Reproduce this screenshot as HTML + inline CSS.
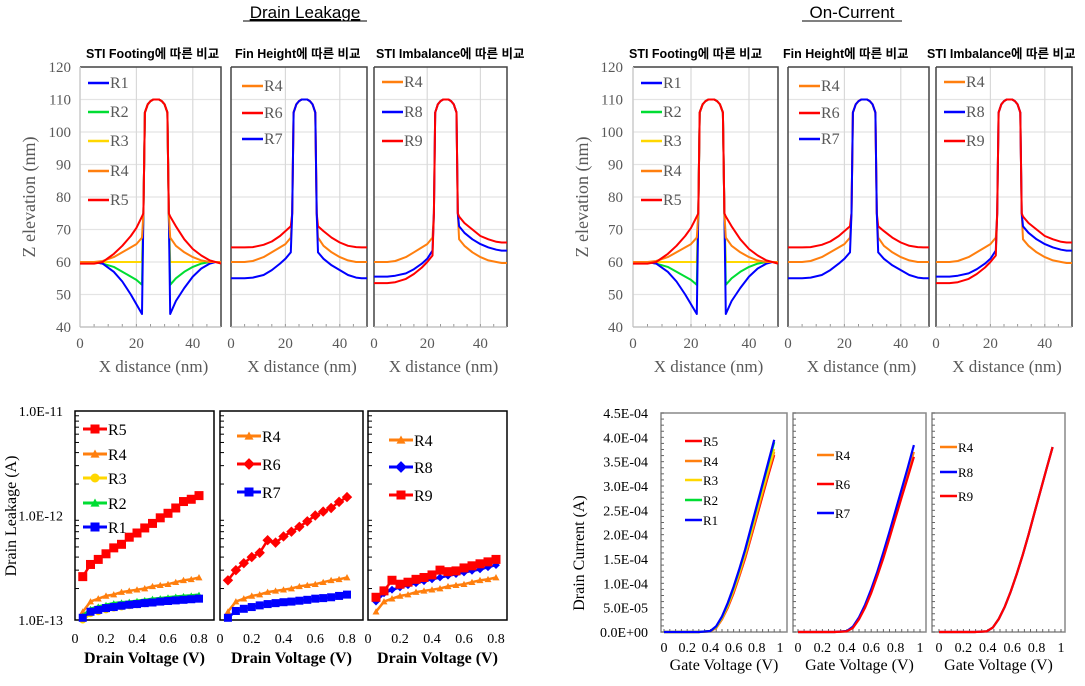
<!DOCTYPE html>
<html><head><meta charset="utf-8"><style>
body{margin:0;background:#fff;width:1085px;height:686px;overflow:hidden}
svg{display:block;font-family:"Liberation Serif","Noto Serif CJK SC",serif}
.kt{font-family:"Liberation Sans","Noto Sans CJK KR",sans-serif;font-weight:bold;font-size:12.5px}
</style></head><body>
<svg id="fig" width="1085" height="686" viewBox="0 0 1085 686">
<text x="305" y="18" text-anchor="middle" font-family="Liberation Sans, sans-serif" font-size="17" text-decoration="underline">Drain Leakage</text>
<line x1="243" y1="21" x2="367" y2="21" stroke="#000" stroke-width="1"/>
<text x="852" y="18" text-anchor="middle" font-family="Liberation Sans, sans-serif" font-size="17">On-Current</text>
<line x1="802" y1="21" x2="902" y2="21" stroke="#000" stroke-width="1"/>
</svg>
<script>
// ---------- data ----------
const topXL=[0,5,8,12,15,18,20,22];
const topXR=[32,34,37,40,43,46,48,50];
const finX=[22.5,23,24,25,26,27,28,29,30,31,31.5];
const finZ=[75,106,108.5,109.5,110,110,110,109.5,108.5,106,75];
const zR1L=[60,60,59.5,57,54,50,47,44], zR1R=[44,48,52,55.5,58,59.5,60,60];
const zR2L=[60,60,59.5,58.5,57,55.5,54.5,53], zR2R=[53,55,57,58.5,59.5,60,60,60];
const zR3L=[60,60,60,60,60,60,60,60], zR3R=[60,60,60,60,60,60,60,60];
const zR4L=[60,60,60.3,61.5,63,64.5,65.5,67.5], zR4R=[67.5,65,63,61.5,60.5,60,60,60];
const zR5L=[59.5,59.5,60,62.5,65,68,70.5,74], zR5R=[74,71,67,64,62,60.5,60,59.5];
const zR6L=[64.5,64.5,64.6,65.3,66.3,68,69.5,71], zR6R=[71,69.5,67.5,66,65,64.6,64.5,64.5];
const zR7L=[55,55,55.2,56,57.5,59.5,61,63], zR7R=[63,61,59,57.5,56,55.2,55,55];
const zR8L=[55.5,55.5,55.8,56.5,57.8,59.5,61,63.5], zR8R=[71,69,67,65.5,64.5,63.8,63.5,63.5];
const zR9L=[53.5,53.5,53.8,54.8,56.3,58.3,60,62], zR9R=[74,72,70,68,67,66.2,66,66];
const zR4bR=[67,65,63,61.5,60.5,60,59.7,59.7];
const yTicksTop=[40,50,60,70,80,90,100,110,120];
const xTicksTop=[0,20,40];

const vd=[0.05,0.1,0.15,0.2,0.25,0.3,0.35,0.4,0.45,0.5,0.55,0.6,0.65,0.7,0.75,0.8];
const lkR5=[2.6,3.4,3.8,4.3,4.9,5.3,6.2,6.8,7.6,8.4,9.5,10.5,11.8,13.6,14.3,15.5];
const lkR4=[1.2,1.5,1.6,1.7,1.75,1.85,1.9,1.95,2.0,2.1,2.15,2.2,2.3,2.4,2.45,2.55];
const lkR3=[1.0,1.15,1.2,1.25,1.3,1.33,1.37,1.4,1.43,1.46,1.5,1.52,1.55,1.58,1.6,1.62];
const lkR2=[1.1,1.28,1.35,1.4,1.45,1.48,1.5,1.53,1.56,1.6,1.62,1.65,1.68,1.7,1.72,1.75];
const lkR1=[1.05,1.2,1.25,1.3,1.33,1.37,1.4,1.42,1.45,1.47,1.5,1.52,1.54,1.56,1.58,1.6];
const lkR6=[2.4,3.0,3.5,4.0,4.4,5.8,5.5,6.3,7.0,7.8,8.8,10.0,10.9,11.8,13.5,15.0];
const lkR7=[1.05,1.22,1.28,1.33,1.38,1.42,1.45,1.48,1.5,1.53,1.56,1.6,1.62,1.65,1.7,1.75];
const lkR8=[1.5,1.8,1.95,2.05,2.15,2.25,2.35,2.45,2.55,2.65,2.75,2.85,2.95,3.05,3.2,3.35];
const lkR9=[1.65,1.9,2.4,2.2,2.3,2.45,2.55,2.7,3.0,2.9,2.95,3.15,3.3,3.45,3.6,3.8];
const lkTicks=["1.0E-13","1.0E-12","1.0E-11"];
const vdTicks=[0,0.2,0.4,0.6,0.8];

const vg=[0,0.1,0.2,0.3,0.4,0.45,0.5,0.55,0.6,0.65,0.7,0.75,0.8,0.85,0.9,0.95];
const idR1=[0,0,0,0,0.2,1.2,3.2,6,9.3,13,17,21.5,26,30.5,35,39.5];
const idR2=[0,0,0,0,0.2,1.1,3.1,5.8,9.1,12.8,16.8,21.2,25.7,30.2,34.6,39];
const idR3=[0,0,0,0,0.2,1.0,2.9,5.5,8.7,12.3,16.2,20.5,24.9,29.3,33.5,37.6];
const idR4=[0,0,0,0,0.15,0.9,2.7,5.2,8.3,11.8,15.6,19.8,24.2,28.6,32.9,37];
const idR5=[0,0,0,0,0.15,0.85,2.6,5.0,8.0,11.5,15.2,19.4,23.7,28,32.3,36.4];
const idR6=[0,0,0,0,0.15,0.85,2.6,5.0,8.0,11.5,15.2,19.3,23.5,27.7,31.8,36];
const idR7=[0,0,0,0,0.2,1.1,3.0,5.6,8.8,12.4,16.4,20.6,25,29.4,33.8,38.4];
const idP3=[0,0,0,0,0.15,0.9,2.7,5.2,8.3,11.9,15.8,20.1,24.6,29.1,33.6,38];
const idTicks=["0.0E+00","5.0E-05","1.0E-04","1.5E-04","2.0E-04","2.5E-04","3.0E-04","3.5E-04","4.0E-04","4.5E-04"];
const vgTicks=[0,0.2,0.4,0.6,0.8,1];

const C={R1:"#0000ff",R2:"#00dd33",R3:"#ffd700",R4:"#ff7f0e",R5:"#ff0000",R6:"#ff0000",R7:"#0000ff",R8:"#0000ff",R9:"#ff0000"};
const NS="http://www.w3.org/2000/svg";
const svg=document.getElementById('fig');
function mk(tag,attrs,parent){const e=document.createElementNS(NS,tag);for(const k in attrs)e.setAttribute(k,attrs[k]);(parent||svg).appendChild(e);return e;}

// ---------- top profile panels ----------
function topPanel(px0,px1,border,leftGrey){
  const g=mk('g',{});
  
  
  const sx=x=>px0+(px1-px0)*x/50, sy=z=>327-(z-40)*260/80;
  yTicksTop.forEach(t=>{const l=mk('line',{x1:px0,x2:px1,y1:sy(t),y2:sy(t),stroke:'#e4e4e4','stroke-width':1.2},g);
    
    });
  xTicksTop.slice(1).forEach(t=>{const l=mk('line',{x1:sx(t),x2:sx(t),y1:67,y2:327,stroke:'#d9d9d9','stroke-width':1.2},g);
    
    });
  for(let t=0;t<=50;t+=5){const l=mk('line',{x1:sx(t),x2:sx(t),y1:324,y2:327,stroke:'#999'},g);
    
    }
  const r=mk('path',{d:`M${px0},67H${px1}V327`,fill:'none',stroke:'#444','stroke-width':1.5},g);
  
  
  const la=mk('line',{x1:px0,x2:px0,y1:67,y2:327,stroke:leftGrey?'#ccc':'#444','stroke-width':1.5},g);
  
  
  const ba=mk('line',{x1:px0,x2:px1,y1:327,y2:327,stroke:'#bbb','stroke-width':1.2},g);
  
  
  xTicksTop.forEach(t=>{const tx=mk('text',{x:sx(t),y:348,'text-anchor':'middle','font-size':15,fill:'#595959'},g);tx.textContent=t;
    
    });
  const xt=mk('text',{x:(px0+px1)/2+3,y:372,'text-anchor':'middle','font-size':17,fill:'#595959'},g);xt.textContent='X distance  (nm)';
  
  
  return {g,sx,sy};
}
function topSeries(P,name,L,R){
  const xs=topXL.concat(finX,topXR), zs=L.concat(finZ,R);
  const d=xs.map((x,i)=>(i?'L':'M')+P.sx(x).toFixed(1)+','+P.sy(zs[i]).toFixed(1)).join('');
  const p=mk('path',{d,fill:'none',stroke:C[name],'stroke-width':2,'stroke-linejoin':'round'},P.g);
  
  
}
function legendLine(g,x1,x2,y,name,col,fs,fill){
  const l=mk('line',{x1,x2,y1:y,y2:y,stroke:col,'stroke-width':2.5},g);
  
  
  const t=mk('text',{x:x2+1,y:y+5,'font-size':fs,fill:fill||'#595959'},g);t.textContent=name;
  
  
}
function yTickLabelsTop(x){yTicksTop.forEach(t=>{const tx=mk('text',{x,y:327-(t-40)*260/80+5,'text-anchor':'end','font-size':15,fill:'#595959'});tx.textContent=t;
  
  });}
function yTitle(x,y,txt,fs,fill,bold){const t=mk('text',{x,y,transform:`rotate(-90 ${x} ${y})`,'text-anchor':'middle','font-size':fs,fill,'font-weight':bold?'bold':'normal'});t.textContent=txt;
  
  }
function sub(x,txt){const t=mk('text',{x,y:58,'class':'kt'});t.textContent=txt;
  
  }

[[0,[80,221],[231,367],[374,507],71,35,[86,235,376]],[1,[633,778],[788,929],[936,1072],623,588,[629,783,927]]].forEach(([k,a,b,c,tlx,ytx,sx])=>{
  sub(sx[0],'STI Footing에 따른 비교');sub(sx[1],'Fin Height에 따른 비교');sub(sx[2],'STI Imbalance에 따른 비교');
  yTickLabelsTop(tlx);yTitle(ytx,197,'Z elevation  (nm)',18,'#595959');
  const P1=topPanel(a[0],a[1],true,true);
  topSeries(P1,'R3',zR3L,zR3R);topSeries(P1,'R2',zR2L,zR2R);topSeries(P1,'R1',zR1L,zR1R);topSeries(P1,'R4',zR4L,zR4R);topSeries(P1,'R5',zR5L,zR5R);
  ['R1','R2','R3','R4','R5'].forEach((n,i)=>legendLine(P1.g,a[0]+8,a[0]+29,[83,112,141,171,200][i],n,C[n],16));
  const P2=topPanel(b[0],b[1],true,false);
  topSeries(P2,'R4',zR4L,zR4R);topSeries(P2,'R6',zR6L,zR6R);topSeries(P2,'R7',zR7L,zR7R);
  ['R4','R6','R7'].forEach((n,i)=>legendLine(P2.g,b[0]+11,b[0]+32,[86,113,139][i],n,C[n],16));
  const P3=topPanel(c[0],c[1],true,false);
  topSeries(P3,'R4',zR4L,zR4bR);topSeries(P3,'R8',zR8L,zR8R);topSeries(P3,'R9',zR9L,zR9R);
  ['R4','R8','R9'].forEach((n,i)=>legendLine(P3.g,c[0]+8,c[0]+29,[82,112,141][i],n,C[n],16));
});

// ---------- bottom-left leakage ----------
function marker(g,type,x,y,col,s){
  let e;
  if(type==='sq')e=mk('rect',{x:x-s,y:y-s,width:2*s,height:2*s,fill:col},g);
  else if(type==='tri')e=mk('path',{d:`M${x},${y-s}L${x+s},${y+s*0.8}L${x-s},${y+s*0.8}Z`,fill:col},g);
  else if(type==='dia')e=mk('path',{d:`M${x},${y-s*1.3}L${x+s*1.3},${y}L${x},${y+s*1.3}L${x-s*1.3},${y}Z`,fill:col},g);
  else e=mk('circle',{cx:x,cy:y,r:s,fill:col},g);
  
  
}
function lkPanel(px0,px1,x0px,x08px){
  const g=mk('g',{});
  
  
  const sx=v=>x0px+(x08px-x0px)*v/0.8, sy=v=>620-(Math.log10(v)+13)*104.5;
  const r=mk('rect',{x:px0,y:411,width:px1-px0,height:209,fill:'none',stroke:'#000','stroke-width':1.5},g);
  
  
  for(let d=0;d<2;d++)for(let m=2;m<=9;m++){const y=620-(d+Math.log10(m))*104.5;const l=mk('line',{x1:px0,x2:px0+4,y1:y,y2:y,stroke:'#000'},g);
    
    }
  vdTicks.forEach(t=>{const tx=mk('text',{x:sx(t),y:643,'text-anchor':'middle','font-size':14},g);tx.textContent=t;
    
    });
  const xt=mk('text',{x:(px0+px1)/2,y:663,'text-anchor':'middle','font-size':16,'font-weight':'bold'},g);xt.textContent='Drain Voltage  (V)';
  
  
  return {g,sx,sy};
}
function lkSeries(P,name,vals,type,s,lw){
  const col=C[name];
  const d=vd.map((v,i)=>(i?'L':'M')+P.sx(v).toFixed(1)+','+P.sy(vals[i]*1e-13).toFixed(1)).join('');
  const p=mk('path',{d,fill:'none',stroke:col,'stroke-width':lw||2.5},P.g);
  
  
  vd.forEach((v,i)=>marker(P.g,type,P.sx(v),P.sy(vals[i]*1e-13),col,s));
}
function lkLegend(g,x,y,name,type){
  const l=mk('line',{x1:x,x2:x+24,y1:y,y2:y,stroke:C[name],'stroke-width':3},g);
  
  
  marker(g,type,x+12,y,C[name],4.5);
  const t=mk('text',{x:x+25,y:y+6,'font-size':16},g);t.textContent=name;
  
  
}
lkTicks.forEach((t,i)=>{const tx=mk('text',{x:63,y:620-i*104.5+5,'text-anchor':'end','font-size':14});tx.textContent=t;
  
  });
yTitle(16,516,'Drain Leakage  (A)',16,'#000',false);
const L1=lkPanel(75,214,75,199);
lkSeries(L1,'R4',lkR4,'tri',3.5);lkSeries(L1,'R3',lkR3,'circ',3.5);lkSeries(L1,'R2',lkR2,'tri',3);lkSeries(L1,'R1',lkR1,'sq',4);lkSeries(L1,'R5',lkR5,'sq',4.5);
[['R5','sq'],['R4','tri'],['R3','circ'],['R2','tri'],['R1','sq']].forEach(([n,t],i)=>lkLegend(L1.g,83,[429,454,478,503,527][i],n,t));
const L2=lkPanel(220,363,220,347);
lkSeries(L2,'R4',lkR4,'tri',3.5);lkSeries(L2,'R7',lkR7,'sq',4);lkSeries(L2,'R6',lkR6,'dia',4);
[['R4','tri'],['R6','dia'],['R7','sq']].forEach(([n,t],i)=>lkLegend(L2.g,237,[436,464,492][i],n,t));
const L3=lkPanel(368,507,368,496);
lkSeries(L3,'R4',lkR4,'tri',3.5);lkSeries(L3,'R8',lkR8,'dia',3);lkSeries(L3,'R9',lkR9,'sq',4.5);
[['R4','tri'],['R8','dia'],['R9','sq']].forEach(([n,t],i)=>lkLegend(L3.g,389,[440,467,495][i],n,t));

// ---------- bottom-right on-current ----------
function idPanel(px0,px1,x0px,x1px){
  const g=mk('g',{});
  
  
  const sx=v=>x0px+(x1px-x0px)*v, sy=v=>632-v*219/45;
  const r=mk('rect',{x:px0,y:413,width:px1-px0,height:219,fill:'none',stroke:'#888','stroke-width':1.5},g);
  
  
  for(let i=0;i<=45;i+=1.25){const l=mk('line',{x1:px0,x2:px0+3,y1:sy(i),y2:sy(i),stroke:'#666'},g);
    
    }
  for(let v=0;v<=1.001;v+=0.05){const l=mk('line',{x1:sx(v),x2:sx(v),y1:629,y2:632,stroke:'#666'},g);
    
    }
  vgTicks.forEach(t=>{const tx=mk('text',{x:sx(t),y:652,'text-anchor':'middle','font-size':14},g);tx.textContent=t;
    
    });
  const xt=mk('text',{x:(px0+px1)/2,y:670,'text-anchor':'middle','font-size':16},g);xt.textContent='Gate Voltage (V)';
  
  
  return {g,sx,sy};
}
function idSeries(P,name,vals,xs){
  const d=(xs||vg).map((v,i)=>(i?'L':'M')+P.sx(v).toFixed(1)+','+P.sy(vals[i]).toFixed(1)).join('');
  const p=mk('path',{d,fill:'none',stroke:C[name],'stroke-width':2.2},P.g);
  
  
}
idTicks.forEach((t,i)=>{const tx=mk('text',{x:648,y:632-i*219/9+5,'text-anchor':'end','font-size':14});tx.textContent=t;
  
  });
yTitle(584,553,'Drain Current (A)',16,'#000',false);
const vg3=vg.map(v=>v*0.98);
const I1=idPanel(661,787,664,780);
idSeries(I1,'R5',idR5);idSeries(I1,'R4',idR4);idSeries(I1,'R3',idR3);idSeries(I1,'R2',idR2);idSeries(I1,'R1',idR1);
['R5','R4','R3','R2','R1'].forEach((n,i)=>legendLine(I1.g,685,702,[441,461,480,500,520][i],n,C[n],13,'#000'));
const I2=idPanel(793,926,798,920);
idSeries(I2,'R4',idR4);idSeries(I2,'R7',idR7);idSeries(I2,'R6',idR6);
['R4','R6','R7'].forEach((n,i)=>legendLine(I2.g,817,834,[455,484,513][i],n,C[n],13,'#000'));
const I3=idPanel(932,1065,939,1061);
idSeries(I3,'R4',idP3,vg3);idSeries(I3,'R8',idP3,vg3);idSeries(I3,'R9',idP3,vg3);
['R4','R8','R9'].forEach((n,i)=>legendLine(I3.g,940,957,[447,472,496][i],n,C[n],13,'#000'));
</script>
</body></html>
